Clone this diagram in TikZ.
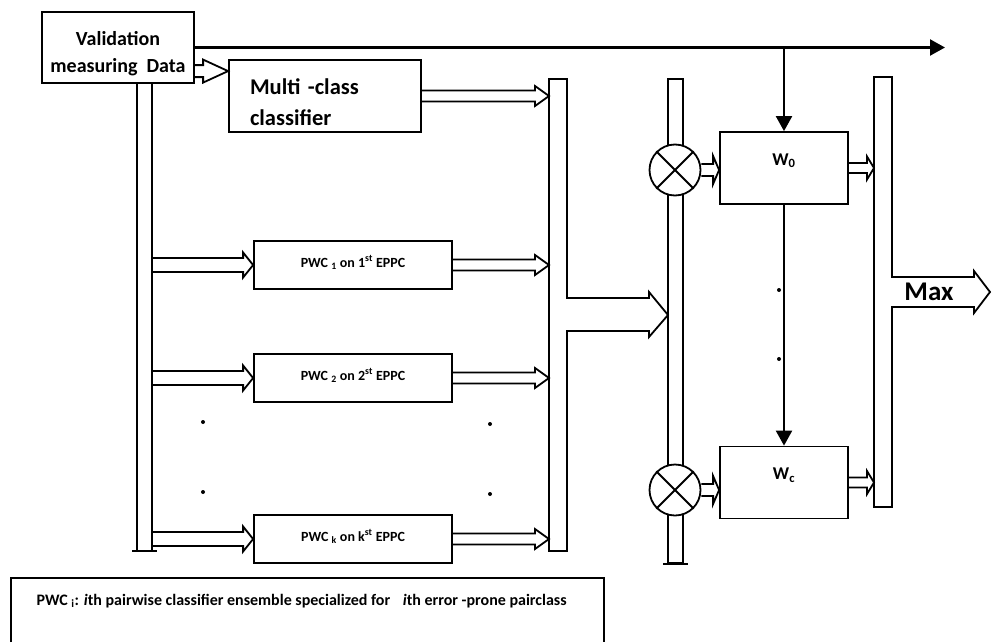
\documentclass[tikz,border=0pt]{standalone}
\usepackage{fontspec}
\setmainfont{Carlito}
\usetikzlibrary{arrows.meta, positioning, calc}

% hollow block arrow: from, to, shaft half width, head half width, head length
\newcommand{\hollowarrow}[5]{%
  \draw[line] let \p1=#1, \p2=#2 in
    (\x1,\y2+#3pt) -- (\x2-#5pt,\y2+#3pt) -- (\x2-#5pt,\y2+#4pt) -- (\x2,\y2)
    -- (\x2-#5pt,\y2-#4pt) -- (\x2-#5pt,\y2-#3pt) -- (\x1,\y2-#3pt);}

\begin{document}
\begin{tikzpicture}[x=1pt, y=-1pt,
  box/.style={rectangle, draw=black, line width=1.8pt, inner sep=0pt, font=\bfseries},
  pwc/.style={box, minimum width=198pt, minimum height=48pt, text height=10pt, text depth=6pt,
    font=\bfseries\fontsize{14}{16}\selectfont},
  wbox/.style={box, minimum width=128pt, minimum height=72pt, text height=12pt, text depth=18pt,
    font=\bfseries\fontsize{18}{20}\selectfont},
  mult/.style={circle, draw=black, line width=1.8pt, fill=white, minimum size=51pt, inner sep=0pt},
  line/.style={line width=1.8pt, line join=miter},
  arrow/.style={line, line width=2.2pt, -{Triangle[length=15pt, width=16pt]}}
]
\useasboundingbox (0,0) rectangle (992,642);

% source and multi-class classifier
\node (val) [box, minimum width=152pt, minimum height=71pt, align=center, text height=54pt, text depth=5pt,
  font=\bfseries\fontsize{20}{27}\selectfont] at (118,47.5) {Validation\\measuring\ \ Data};
\node (mcc) [box, minimum width=192pt, minimum height=72pt, text width=150pt, align=left,
  text height=15pt, text depth=19pt, font=\bfseries\fontsize{22.5}{31}\selectfont] at (325,96) {Multi -class\\classifier};

% pairwise classifiers
\node (pwc1) [pwc] at (353,265) {PWC \textsubscript{1} on 1\textsuperscript{st} EPPC};
\node (pwc2) [pwc] at (353,378) {PWC \textsubscript{2} on 2\textsuperscript{st} EPPC};
\node (pwck) [pwc] at (353,539) {PWC \textsubscript{k} on k\textsuperscript{st} EPPC};

% weights
\node (w0) [wbox] at (784,168) {W\textsubscript{0}};
\node (wc) [wbox] at (784,482.5) {W\textsubscript{c}};

% bus from the validation data
\coordinate (busL) at (137,551);
\coordinate (busR) at (152,551);
\draw[line] (val.south -| busL) -- (busL);
\draw[line] (val.south -| busR) -- (busR);
\draw[line] ([xshift=-5pt]busL) -- ([xshift=5pt]busR);

\hollowarrow{(val.east)}{([yshift=-12pt]mcc.north west)}{6}{11.5}{25}
\hollowarrow{(busR)}{(pwc1.west)}{7}{12.5}{10}
\hollowarrow{(busR)}{(pwc2.west)}{7}{12.5}{10}
\hollowarrow{(busR)}{(pwck.west)}{7}{12.5}{10}

% collector with merged output
\coordinate (b1) at (549,0);
\draw[line] (549,79) -- (567,79) -- (567,298) -- (649,298) -- (649,292) -- (668,315)
  -- (649,337) -- (649,331) -- (567,331) -- (567,551) -- (549,551) -- cycle;
\hollowarrow{(mcc.east)}{(b1 |- mcc.east)}{5.5}{10}{14}
\hollowarrow{(pwc1.east)}{(b1 |- pwc1.east)}{5.5}{10}{14}
\hollowarrow{(pwc2.east)}{(b1 |- pwc2.east)}{5.5}{10}{14}
\hollowarrow{(pwck.east)}{(b1 |- pwck.east)}{5.5}{10}{14}

% multiplier bus
\node (bus2) [box, minimum width=15pt, minimum height=484pt] at (675.5,321) {};
\draw[line] ([xshift=-4pt]bus2.south west) -- ([xshift=4pt]bus2.south east);
\node (mul0) [mult] at (675,170) {};
\node (mulc) [mult] at (675,490) {};
\draw[line] (mul0.north west) -- (mul0.south east) (mul0.north east) -- (mul0.south west);
\draw[line] (mulc.north west) -- (mulc.south east) (mulc.north east) -- (mulc.south west);
\hollowarrow{(mul0.east)}{(w0.west |- mul0.east)}{6}{14}{6}
\hollowarrow{(mulc.east)}{(wc.west |- mulc.east)}{6}{14}{6}

% max stage
\coordinate (b3) at (874,0);
\draw[line] (874,77) -- (892,77) -- (892,277) -- (974,277) -- (974,271) -- (990,292)
  -- (974,313) -- (974,307) -- (892,307) -- (892,507) -- (874,507) -- cycle;
\node (max) [font=\bfseries\fontsize{27}{30}\selectfont] at (929,292) {Max};
\hollowarrow{(w0.east)}{(b3 |- w0.east)}{5}{11.5}{7}
\hollowarrow{(wc.east)}{(b3 |- wc.east)}{5}{11.5}{7}

% validation data to the weights
\coordinate (topend) at (945,0);
\draw[arrow] (val.east) -- (val.east -| topend);
\draw[arrow] (val.east -| w0.north) -- (w0.north);
\draw[arrow] (w0.south) -- (wc.north);

% dots
\foreach \pt in {(203,422),(490,424),(203,492),(490,494),(779,290),(779,359)}
  \fill \pt circle (2pt);

% legend
\draw[line] (11,642) -- (11,578) -- (604,578) -- (604,642);
\node (legend) [anchor=base west, font=\bfseries\fontsize{16}{18}\selectfont] at (33,605)
  {PWC \textsubscript{i}: \textit{i}th pairwise classifier ensemble specialized for\hspace{9pt} \textit{i}th error -prone pairclass};

\end{tikzpicture}
\end{document}
